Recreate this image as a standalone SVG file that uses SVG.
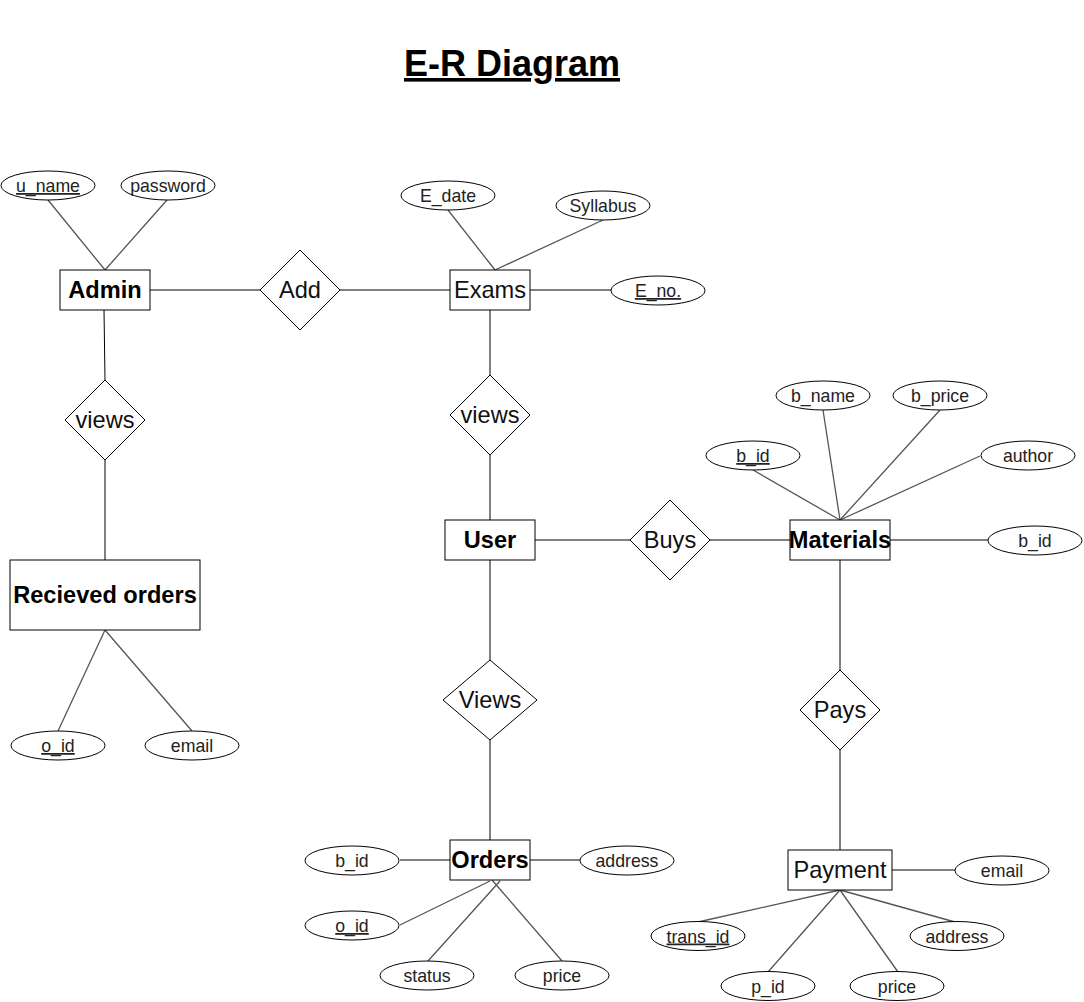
<svg xmlns="http://www.w3.org/2000/svg" width="1084" height="1002" viewBox="0 0 1084 1002">
<style>
.ent{fill:#fff;stroke:#000;stroke-width:1}
.rel{fill:#fff;stroke:#000;stroke-width:1}
.att{fill:#fff;stroke:#000;stroke-width:1}
.ln{stroke:#000;stroke-width:1;fill:none}
.al{stroke:#555;stroke-width:1.3;fill:none}
text{font-family:"Liberation Sans",Arial,sans-serif;fill:#000;text-anchor:middle}
.at{font-size:17.7px;fill:#222}
.big{font-size:23.6px;fill:#111}
.bold{font-size:23.6px;font-weight:bold}
.u{text-decoration:underline}
</style>
<text x="512" y="76" style="font-size:36px;font-weight:bold" text-decoration="underline">E-R Diagram</text>
<g id="connectors">
<line class="al" x1="48" y1="200" x2="105" y2="270"/>
<line class="al" x1="167" y1="200" x2="105" y2="270"/>
<line class="ln" x1="150" y1="290" x2="260" y2="290"/>
<line class="ln" x1="340" y1="290" x2="450" y2="290"/>
<line class="al" x1="448" y1="210" x2="495" y2="270"/>
<line class="al" x1="603" y1="220" x2="495" y2="270"/>
<line class="ln" x1="530" y1="290" x2="611" y2="290"/>
<line class="ln" x1="104" y1="310" x2="105" y2="380"/>
<line class="ln" x1="105" y1="460" x2="105" y2="560"/>
<line class="al" x1="105" y1="630" x2="58" y2="731"/>
<line class="al" x1="105" y1="630" x2="192" y2="731"/>
<line class="ln" x1="490" y1="310" x2="490" y2="375"/>
<line class="ln" x1="490" y1="455" x2="490" y2="520"/>
<line class="ln" x1="535" y1="540" x2="630" y2="540"/>
<line class="ln" x1="710" y1="540" x2="790" y2="540"/>
<line class="ln" x1="890" y1="540" x2="988" y2="540"/>
<line class="al" x1="753" y1="470" x2="840" y2="520"/>
<line class="al" x1="823" y1="410" x2="840" y2="520"/>
<line class="al" x1="940" y1="410" x2="840" y2="520"/>
<line class="al" x1="980" y1="456" x2="840" y2="520"/>
<line class="ln" x1="840" y1="560" x2="840" y2="670"/>
<line class="ln" x1="840" y1="750" x2="840" y2="850"/>
<line class="ln" x1="892" y1="870" x2="955" y2="870"/>
<line class="al" x1="698" y1="922" x2="840" y2="890"/>
<line class="al" x1="955" y1="922" x2="840" y2="890"/>
<line class="al" x1="768" y1="972" x2="840" y2="890"/>
<line class="al" x1="898" y1="972" x2="840" y2="890"/>
<line class="ln" x1="490" y1="560" x2="490" y2="660"/>
<line class="ln" x1="490" y1="740" x2="490" y2="840"/>
<line class="ln" x1="400" y1="860" x2="450" y2="860"/>
<line class="ln" x1="530" y1="860" x2="580" y2="860"/>
<line class="al" x1="400" y1="925" x2="490" y2="881"/>
<line class="al" x1="428" y1="961" x2="500" y2="881"/>
<line class="al" x1="562" y1="961" x2="492" y2="880"/>
</g>
<g id="admin"><rect class="ent" x="60" y="270" width="90" height="40"/><text class="bold" x="105" y="298">Admin</text></g>
<g id="u_name"><ellipse class="att" cx="48" cy="185.5" rx="47" ry="14.5"/><text class="at u" x="48" y="192">u_name</text></g>
<g id="password"><ellipse class="att" cx="168" cy="185.5" rx="47" ry="14.5"/><text class="at" x="168" y="192">password</text></g>
<g id="add"><polygon class="rel" points="300,250 340,290 300,330 260,290"/><text class="big" x="300" y="298">Add</text></g>
<g id="exams"><rect class="ent" x="450" y="270" width="80" height="40"/><text class="big" x="490" y="298">Exams</text></g>
<g id="e_date"><ellipse class="att" cx="448" cy="195.5" rx="47" ry="14.5"/><text class="at" x="448" y="202">E_date</text></g>
<g id="syllabus"><ellipse class="att" cx="603" cy="205.5" rx="47" ry="14.5"/><text class="at" x="603" y="212">Syllabus</text></g>
<g id="e_no"><ellipse class="att" cx="658" cy="290.5" rx="47" ry="14.5"/><text class="at u" x="658" y="297">E_no.</text></g>
<g id="admin_views"><polygon class="rel" points="105,380 145,420 105,460 65,420"/><text class="big" x="105" y="428">views</text></g>
<g id="received_orders"><rect class="ent" x="10" y="560" width="190" height="70"/><text class="bold" x="105" y="603">Recieved orders</text></g>
<g id="ro_o_id"><ellipse class="att" cx="58" cy="745.5" rx="47" ry="14.5"/><text class="at u" x="58" y="752">o_id</text></g>
<g id="ro_email"><ellipse class="att" cx="192" cy="745.5" rx="47" ry="14.5"/><text class="at" x="192" y="752">email</text></g>
<g id="exams_views"><polygon class="rel" points="490,375 530,415 490,455 450,415"/><text class="big" x="490" y="423">views</text></g>
<g id="user"><rect class="ent" x="445" y="520" width="90" height="40"/><text class="bold" x="490" y="548">User</text></g>
<g id="buys"><polygon class="rel" points="670,500 710,540 670,580 630,540"/><text class="big" x="670" y="548">Buys</text></g>
<g id="materials"><rect class="ent" x="790" y="520" width="100" height="40"/><text class="bold" x="840" y="548">Materials</text></g>
<g id="m_b_id2"><ellipse class="att" cx="1035" cy="540.5" rx="47" ry="14.5"/><text class="at" x="1035" y="547">b_id</text></g>
<g id="m_b_name"><ellipse class="att" cx="823" cy="395.5" rx="47" ry="14.5"/><text class="at" x="823" y="402">b_name</text></g>
<g id="m_b_price"><ellipse class="att" cx="940" cy="395.5" rx="47" ry="14.5"/><text class="at" x="940" y="402">b_price</text></g>
<g id="m_b_id"><ellipse class="att" cx="753" cy="455.5" rx="47" ry="14.5"/><text class="at u" x="753" y="462">b_id</text></g>
<g id="m_author"><ellipse class="att" cx="1028" cy="455.5" rx="47" ry="14.5"/><text class="at" x="1028" y="462">author</text></g>
<g id="pays"><polygon class="rel" points="840,670 880,710 840,750 800,710"/><text class="big" x="840" y="718">Pays</text></g>
<g id="payment"><rect class="ent" x="788" y="850" width="104" height="40"/><text class="big" x="840" y="878">Payment</text></g>
<g id="p_email"><ellipse class="att" cx="1002" cy="870.5" rx="47" ry="14.5"/><text class="at" x="1002" y="877">email</text></g>
<g id="p_trans_id"><ellipse class="att" cx="698" cy="936" rx="47" ry="14.5"/><text class="at u" x="698" y="942.5">trans_id</text></g>
<g id="p_address"><ellipse class="att" cx="957" cy="936" rx="47" ry="14.5"/><text class="at" x="957" y="942.5">address</text></g>
<g id="p_p_id"><ellipse class="att" cx="768" cy="986" rx="47" ry="14.5"/><text class="at" x="768" y="992.5">p_id</text></g>
<g id="p_price"><ellipse class="att" cx="897" cy="986" rx="47" ry="14.5"/><text class="at" x="897" y="992.5">price</text></g>
<g id="user_views"><polygon class="rel" points="490,660 537,700 490,740 443,700"/><text class="big" x="490" y="708">Views</text></g>
<g id="orders"><rect class="ent" x="450" y="840" width="80" height="40"/><text class="bold" x="490" y="868">Orders</text></g>
<g id="o_b_id"><ellipse class="att" cx="352" cy="860.5" rx="47" ry="14.5"/><text class="at" x="352" y="867">b_id</text></g>
<g id="o_address"><ellipse class="att" cx="627" cy="860.5" rx="47" ry="14.5"/><text class="at" x="627" y="867">address</text></g>
<g id="o_o_id"><ellipse class="att" cx="352" cy="925.5" rx="47" ry="14.5"/><text class="at u" x="352" y="932">o_id</text></g>
<g id="o_status"><ellipse class="att" cx="427" cy="975.5" rx="47" ry="14.5"/><text class="at" x="427" y="982">status</text></g>
<g id="o_price"><ellipse class="att" cx="562" cy="975.5" rx="47" ry="14.5"/><text class="at" x="562" y="982">price</text></g>
</svg>
